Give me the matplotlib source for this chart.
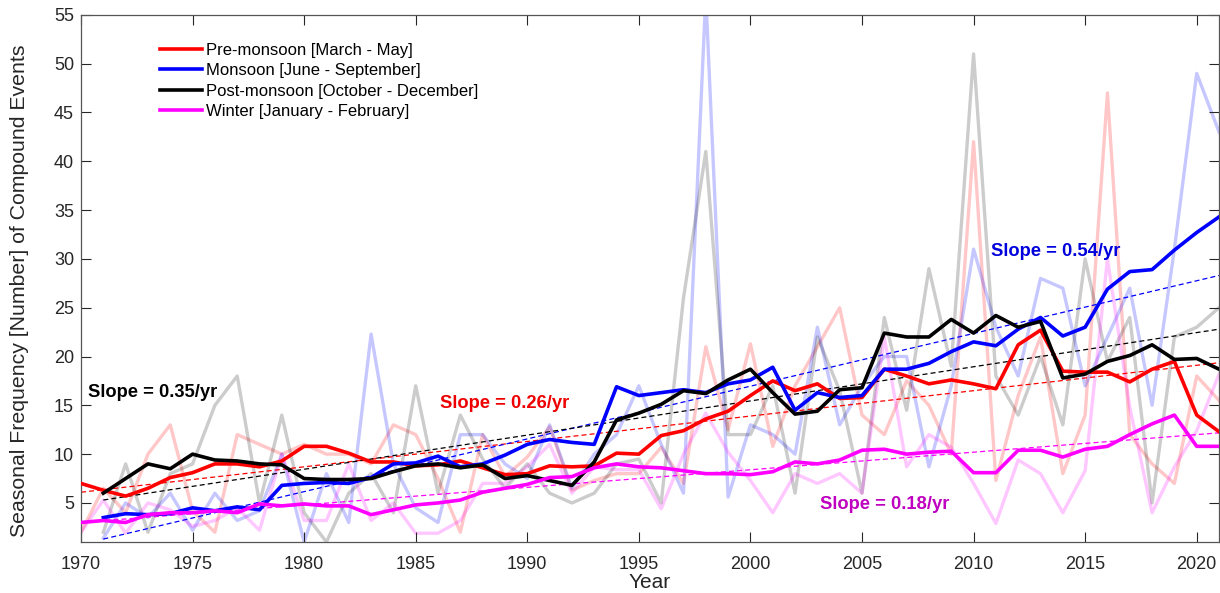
import numpy as np
import matplotlib
matplotlib.use("Agg")
import matplotlib.pyplot as plt

plt.rcParams['font.family'] = ['Liberation Sans', 'DejaVu Sans']

years = np.arange(1970, 2022)
nan = np.nan

# raw seasonal counts (faint lines)
pre_raw = [2, 6.5, 4, 10, 13, 4.2, 2, 12, 11, 10, 11, 10, 10, 9, 13, 12, 7.5, 2,
           12, 7.7, 9.7, 12.8, 6.3, 7.3, 8, 8, 10.7, 7, 21, 12.5, 21.3, 10.8, 17, 21, 25, 14,
           12, 17.5, 15, 10, 42, 7.3, 16, 22, 8, 14, 47, 12, 9, 7, 18, 15.5]
mon_raw = [nan, 1.4, 5, 3.5, 6, 2.2, 6, 3.2, 4.2, 10, 1, 8, 3, 22.3, 9, 4.5, 3, 12,
           12, 9, 7.5, 13, 6.5, 10, 12, 17, 11, 6, 57, 5.6, 13, 12, 10, 23, 13, 17,
           20, 20, 8.7, 17, 31, 23, 18, 28, 27, 17, 22, 27, 15, 31, 49, 43]
post_raw = [nan, 2, 9, 2, 8, 9, 15, 18, 5, 14, 4, 1, 6, 8, 4, 17, 6, 14,
            9.5, 6.5, 9, 6, 5, 6, 9, 9.5, 5, 26, 41, 12, 12, 17, 6, 22, 16.5, 6,
            24, 14.5, 29, 19, 51, 18, 14, 20, 13, 30, 19.5, 24, 5, 22, 23, 25]
win_raw = [2, 5.3, 1.9, 5, 4.3, 2.6, 3.2, 4.5, 2.2, 10, 3.2, 3.2, 9, 3.2, 5, 1.9, 1.9, 3.2,
           7, 7, 8.7, 11, 6, 8.7, 8.4, 8.4, 4.4, 10, 14.2, 10.2, 7.3, 4, 8, 7, 8, 6,
           22, 8.7, 12, 10.7, 7, 2.9, 9.4, 8, 4, 8.3, 30, 14.8, 4, 8.7, 12.4, 18.2]

# smoothed seasonal series (bold lines)
pre_smooth = [7.0, 6.3, 5.7, 6.5, 7.6, 8.1, 9.0, 9.0, 8.7, 9.3, 10.8, 10.8, 10.1, 9.2, 9.2, 8.8, 8.9, 9.3,
              8.6, 7.9, 8.0, 8.8, 8.7, 8.8, 10.1, 10.0, 11.9, 12.4, 13.6, 14.4, 16.0, 17.5, 16.5, 17.2, 15.7, 15.8,
              18.7, 18.0, 17.2, 17.6, 17.2, 16.7, 21.2, 22.7, 18.5, 18.4, 18.4, 17.4, 18.7, 19.5, 14.0, 12.3]
mon_smooth = [nan, 3.5, 3.9, 3.8, 3.9, 4.5, 4.2, 4.6, 4.3, 6.8, 7.0, 7.1, 7.0, 7.6, 9.0, 9.1, 9.8, 8.7,
              9.0, 9.9, 11.0, 11.5, 11.2, 11.0, 16.9, 16.0, 16.3, 16.6, 16.3, 17.2, 17.6, 18.9, 14.5, 16.3, 15.8, 16.0,
              18.7, 18.7, 19.3, 20.5, 21.5, 21.1, 22.8, 24.0, 22.1, 23.0, 26.9, 28.7, 28.9, 30.9, 32.7, 34.3]
post_smooth = [nan, 6.0, 7.5, 9.0, 8.5, 10.0, 9.4, 9.3, 9.0, 8.9, 7.5, 7.4, 7.4, 7.5, 8.2, 8.8, 9.0, 8.6,
               8.9, 7.5, 7.8, 7.3, 6.8, 9.2, 13.5, 14.2, 15.1, 16.5, 16.2, 17.6, 18.7, 16.3, 14.1, 14.4, 16.6, 16.8,
               22.4, 22.0, 22.0, 23.8, 22.4, 24.2, 23.0, 23.6, 17.8, 18.2, 19.5, 20.1, 21.2, 19.7, 19.8, 18.7]
win_smooth = [3.0, 3.2, 3.0, 3.8, 4.0, 4.0, 4.2, 4.0, 4.9, 4.7, 4.9, 4.7, 4.7, 3.8, 4.3, 4.8, 5.0, 5.3,
              6.1, 6.5, 6.9, 7.6, 7.7, 8.6, 9.0, 8.7, 8.6, 8.3, 8.0, 8.0, 7.9, 8.2, 9.2, 9.0, 9.4, 10.4,
              10.5, 10.0, 10.2, 10.3, 8.1, 8.1, 10.4, 10.4, 9.7, 10.5, 10.8, 12.0, 13.1, 14.0, 10.8, 10.8]

# linear trends: first year, value at first year, slope per year
trend_start = [1970, 1971, 1971, 1970]
trend_y0 = [6.1, 1.3, 5.3, 3.0]
slopes = [0.26, 0.54, 0.35, 0.18]

labels = ['Pre-monsoon [March - May]', 'Monsoon [June - September]',
          'Post-monsoon [October - December]', 'Winter [January - February]']
colors = ['#ff0000', '#0000ff', '#000000', '#ff00ff']
text_colors = ['#ee0000', '#0000dd', '#000000', '#c000c0']
slope_pos = [(1986.1, 15.2), (2010.8, 30.8), (1970.3, 16.3), (2003.1, 4.8)]

raws = [pre_raw, mon_raw, post_raw, win_raw]
smooths = [pre_smooth, mon_smooth, post_smooth, win_smooth]

fig = plt.figure(figsize=(12.2, 5.93), dpi=100)
ax = fig.add_axes([0.0664, 0.086, 0.9328, 0.889])

for raw, c in zip(raws, colors):
    a = 0.22 if c != '#000000' else 0.2
    ax.plot(years, raw, color=c, alpha=a, lw=2.4, zorder=1)

for i, c in enumerate(colors):
    tx = np.arange(trend_start[i], 2022)
    ty = trend_y0[i] + slopes[i] * (tx - trend_start[i])
    ax.plot(tx, ty, color=c, lw=0.9, ls=(0, (4, 2.5)), zorder=2)

handles = []
for sm, c, lab in zip(smooths, colors, labels):
    h, = ax.plot(years, sm, color=c, lw=2.6, zorder=3, label=lab)
    handles.append(h)

for (x, y), s, tc in zip(slope_pos, slopes, text_colors):
    ax.text(x, y, 'Slope = %.2f/yr' % s, color=tc, fontsize=13.2,
            fontweight='bold', va='center', ha='left', zorder=4)

ax.set_xlim(1970, 2021)
ax.set_ylim(1, 55)
ax.set_xticks(np.arange(1970, 2021, 5))
ax.set_yticks(np.arange(5, 56, 5))
ax.tick_params(direction='in', length=7, width=0.8, top=True, right=True,
               labelsize=13, colors='#262626')
ax.tick_params(axis='x', pad=10)
ax.tick_params(axis='y', pad=5)
for sp in ax.spines.values():
    sp.set_color('#555555')
    sp.set_linewidth(0.9)

ax.set_xlabel('Year', fontsize=15, color='#262626', labelpad=0)
ax.set_ylabel('Seasonal Frequency [Number] of Compound Events', fontsize=15.3,
              color='#262626')
ax.yaxis.set_label_coords(-0.046, 0.476)

leg = ax.legend(handles=handles, loc='upper left', bbox_to_anchor=(0.0694, 0.947),
                frameon=False, fontsize=12, handlelength=2.5, handletextpad=0.25,
                labelspacing=0.33, borderaxespad=0, borderpad=0)

fig.savefig('out.png', dpi=100)
